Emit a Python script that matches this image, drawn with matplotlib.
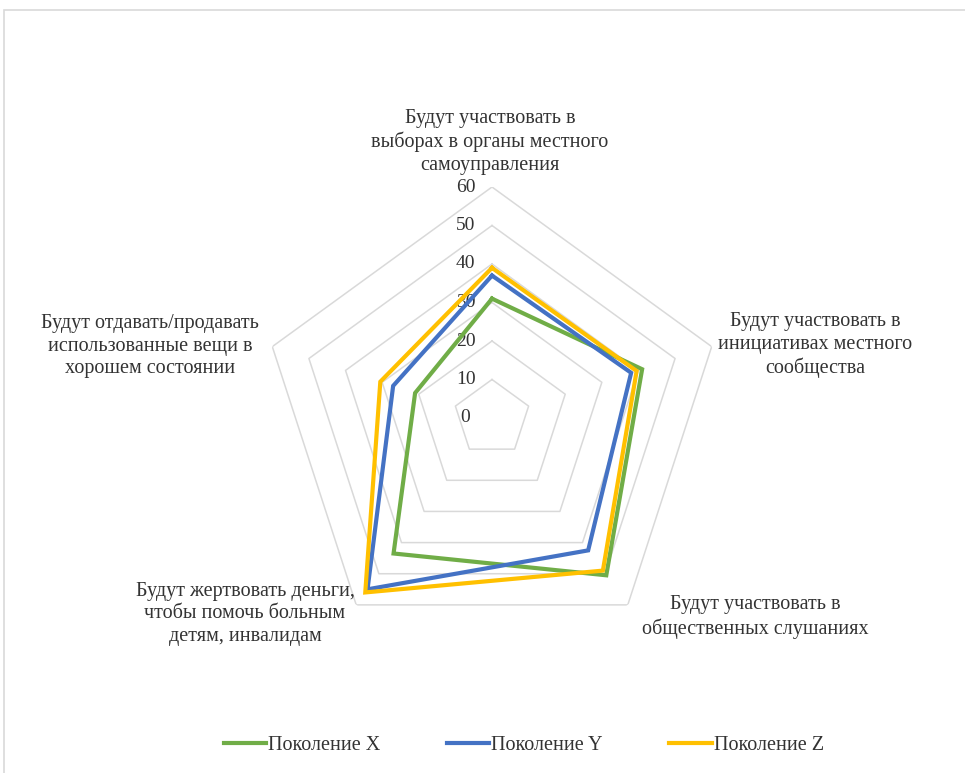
import numpy as np
import matplotlib
matplotlib.use("Agg")
import matplotlib.pyplot as plt
from matplotlib.patches import Rectangle
from matplotlib.lines import Line2D

plt.rcParams['font.family'] = ['Liberation Serif', 'DejaVu Serif']

categories = [
    "Будут участвовать в\nвыборах в органы местного\nсамоуправления",
    "Будут участвовать в\nинициативах местного\nсообщества",
    "Будут участвовать в\nобщественных слушаниях",
    "Будут жертвовать деньги,\nчтобы помочь больным\nдетям, инвалидам",
    "Будут отдавать/продавать\nиспользованные вещи в\nхорошем состоянии",
]
gen_x = [31, 41, 50.5, 43.5, 21]
gen_y = [37, 38, 42.5, 55, 27]
gen_z = [39, 39.5, 49, 56, 30.5]
series_names = ["Поколение X", "Поколение Y", "Поколение Z"]
series_colors = ["#70AD47", "#4472C4", "#FFC000"]
r_ticks = [0, 10, 20, 30, 40, 50, 60]

W, H = 965, 773
fig = plt.figure(figsize=(W / 100, H / 100), dpi=100)
fig.patch.set_facecolor("white")
text_color = "#333333"

# chart area border
fig.patches.append(Rectangle((4 / W, -0.05), 1.1, 1 - 10 / H + 0.05,
                             transform=fig.transFigure, fill=False,
                             edgecolor="#d9d9d9", linewidth=1.2))

cx, cy, R = 492, 418, 231
ax = fig.add_axes([(cx - R) / W, (H - cy - R) / H, 2 * R / W, 2 * R / H],
                  projection="polar")
ax.set_theta_zero_location("N")
ax.set_theta_direction(-1)
ax.set_ylim(0, 60)
ax.axis("off")

n = len(categories)
theta = np.arange(n) * 2 * np.pi / n
theta_closed = np.append(theta, theta[0])

# pentagon gridlines
for r in r_ticks[1:]:
    ax.plot(theta_closed, [r] * (n + 1), color="#d9d9d9", lw=1.1, zorder=1)

# radial tick labels along the top spoke
for r in r_ticks:
    ax.annotate(str(r), xy=(0, r), xytext=(-19, 0), textcoords="offset points",
                ha="center", va="center", fontsize=14, color=text_color)

handles = []
for vals, name, col in zip([gen_x, gen_y, gen_z], series_names, series_colors):
    v = np.append(vals, vals[0])
    ax.plot(theta_closed, v, color=col, lw=3, solid_joinstyle="miter", zorder=3)
    handles.append(Line2D([], [], color=col, lw=3))

# category labels
label_pos = [(490, 142), (815, 345), (755, 617), (245, 614), (150, 346)]
for text, (px, py) in zip(categories, label_pos):
    fig.text(px / W, 1 - py / H, text, ha="center", va="center",
             fontsize=14.5, color=text_color, linespacing=1.28)

fig.legend(handles, series_names, loc="center", bbox_to_anchor=(524 / W, 1 - 745 / H),
           ncol=3, frameon=False, fontsize=14.5, handlelength=2.1,
           handletextpad=0.1, columnspacing=3.3, labelcolor=text_color)

fig.savefig("out.png", dpi=100, facecolor="white")
